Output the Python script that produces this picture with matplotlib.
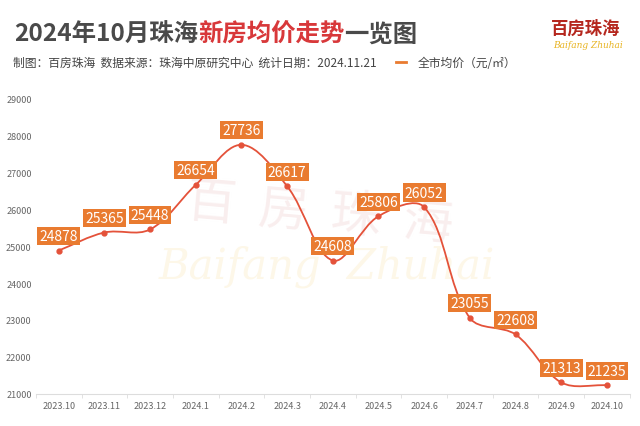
import numpy as np
import matplotlib
matplotlib.use("Agg")
from matplotlib import pyplot as plt
from matplotlib.path import Path
from matplotlib.patches import PathPatch
from matplotlib.lines import Line2D

plt.rcParams['font.family'] = ['Noto Sans CJK SC', 'DejaVu Sans']

months = ["2023.10", "2023.11", "2023.12", "2024.1", "2024.2", "2024.3", "2024.4",
          "2024.5", "2024.6", "2024.7", "2024.8", "2024.9", "2024.10"]
prices = [24878, 25365, 25448, 26654, 27736, 26617, 24608,
          25806, 26052, 23055, 22608, 21313, 21235]
yticks = [21000, 22000, 23000, 24000, 25000, 26000, 27000, 28000, 29000]

LINE = "#E4523A"
BOX = "#E97B30"
GRAY = "#666666"


def smooth_path(xs, ys, sx, sy, smooth=0.35):
    # echarts-like bezier smoothing, computed in pixel space
    px = np.asarray(xs, float) * sx
    py = np.asarray(ys, float) * sy
    n = len(px)
    cps = []
    for i in range(n):
        pi = max(i - 1, 0)
        ni = min(i + 1, n - 1)
        vx = (px[ni] - px[pi]) * smooth
        vy = (py[ni] - py[pi]) * smooth
        d0 = np.hypot(px[i] - px[pi], py[i] - py[pi])
        d1 = np.hypot(px[ni] - px[i], py[ni] - py[i])
        r = d0 / (d0 + d1) if d0 + d1 > 0 else 0.5
        cps.append(((px[i] - vx * r, py[i] - vy * r), (px[i] + vx * (1 - r), py[i] + vy * (1 - r))))
    verts = [(px[0], py[0])]
    codes = [Path.MOVETO]
    for i in range(n - 1):
        verts += [cps[i][1], cps[i + 1][0], (px[i + 1], py[i + 1])]
        codes += [Path.CURVE4] * 3
    verts = [(a / sx, b / sy) for a, b in verts]
    return Path(verts, codes)


fig = plt.figure(figsize=(6.4, 4.27), dpi=100)
ax = fig.add_axes([0.056, 0.075, 0.928, 0.693])
ax.patch.set_alpha(0)
ax.set_zorder(2)

# watermark
fig.text(0.50, 0.50, "百  房  珠  海", fontsize=36, color="#F9EEEE", ha="center", va="center",
         rotation=-5, zorder=-1)
fig.text(0.51, 0.375, "Baifang  Zhuhai", fontsize=30, color="#FDF7E8", ha="center", va="center",
         style="italic", zorder=-1, family=["DejaVu Serif"])

x = np.arange(len(months))
path = smooth_path(x, prices, 45.7, 0.037)
ax.add_patch(PathPatch(path, facecolor="none", edgecolor=LINE, lw=1.3, zorder=3))
ax.plot(x, prices, "o", color=LINE, ms=3.5, zorder=4)

for xi, v in zip(x, prices):
    ax.annotate(str(v), (xi, v), xytext=(0, 10.5), textcoords="offset points", ha="center",
                va="center", fontsize=10, color="white", zorder=5,
                bbox=dict(boxstyle="square,pad=0.15", fc=BOX, ec="none"))

ax.set_xlim(-0.5, len(months) - 0.5)
ax.set_ylim(21000, 29000)
ax.set_yticks(yticks)
ax.set_yticklabels([str(t) for t in yticks], fontsize=6.5, color=GRAY)
ax.set_xticks(x)
ax.set_xticklabels(months, fontsize=6.5, color=GRAY)
ax.set_xticks(np.arange(-0.5, len(months)), minor=True)
ax.tick_params(axis="x", which="major", length=0, pad=5)
ax.tick_params(axis="x", which="minor", length=3, color="#DDDDDD")
ax.tick_params(axis="y", length=0, pad=3)
for s in ["top", "right", "left"]:
    ax.spines[s].set_visible(False)
ax.spines["bottom"].set_color("#DDDDDD")

# title in three colours
t1 = fig.text(0.022, 0.918, "2024年10月珠海", fontsize=17.6, fontweight="bold", color="#4A4A4A", va="center")
t2 = ax.annotate("新房均价走势", xy=(1, 0), xycoords=t1, fontsize=17.6, fontweight="bold",
                 color="#D8383A", va="bottom", ha="left")
ax.annotate("一览图", xy=(1, 0), xycoords=t2, fontsize=17.6, fontweight="bold", color="#4A4A4A",
            va="bottom", ha="left")

fig.text(0.020, 0.852, "制图：百房珠海  数据来源：珠海中原研究中心  统计日期：2024.11.21",
         fontsize=8.5, color="#444444", va="center")
fig.add_artist(Line2D([0.618, 0.634], [0.853, 0.853], color=BOX, lw=2, transform=fig.transFigure))
fig.text(0.652, 0.852, "全市均价（元/㎡）", fontsize=8.5, color="#444444", va="center")

# logo
fig.text(0.915, 0.932, "百房珠海", fontsize=12.5, color="#B5271E", ha="center", va="center", fontweight="bold")
fig.text(0.918, 0.893, "Baifang Zhuhai", fontsize=6.5, color="#E8B422", ha="center", va="center",
         style="italic", family=["DejaVu Serif"])

fig.savefig("out.png", dpi=100)
